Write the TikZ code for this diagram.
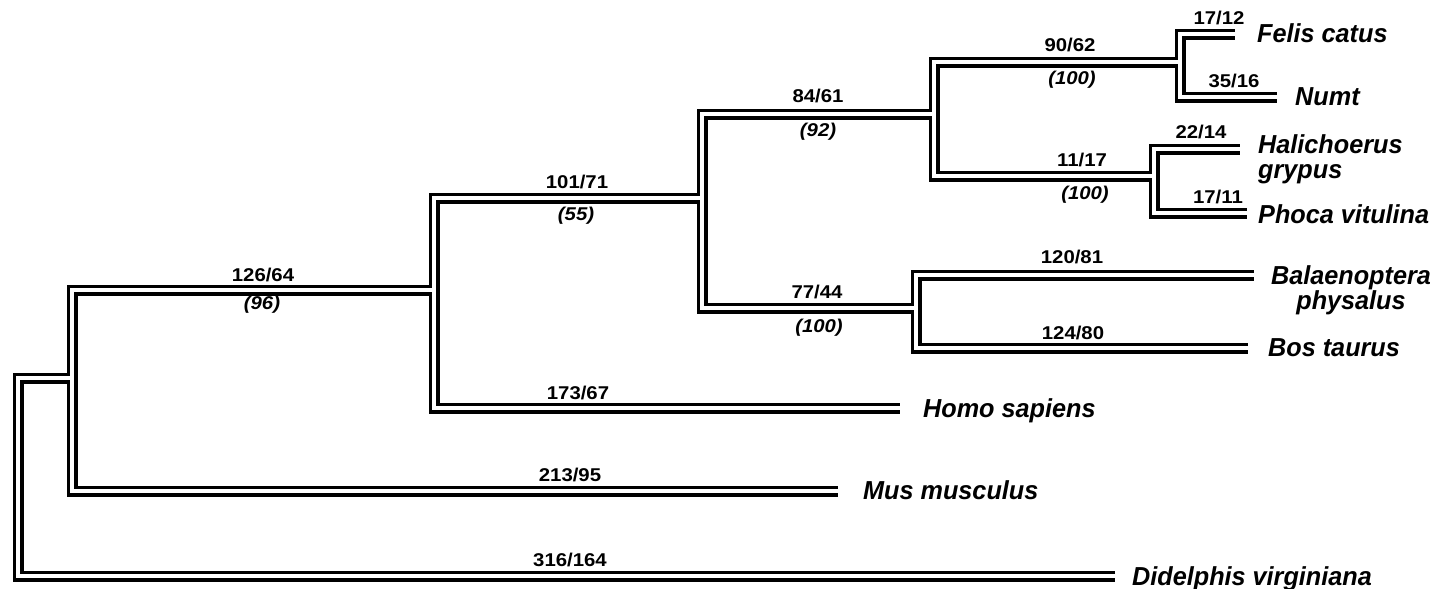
\documentclass[tikz,border=0pt]{standalone}
\usepackage{fontspec}
\newfontfamily\numfont{Liberation Sans}[FakeStretch=1.1]
\newfontfamily\taxfont{Liberation Sans}[FakeStretch=0.97]
\tikzset{
  br/.style={line width=11pt, black, line join=miter, line cap=butt},
  brw/.style={line width=4pt, white, line join=miter, line cap=butt},
  num/.style={font=\numfont\bfseries\fontsize{18.5}{20}\selectfont, inner sep=0pt, anchor=base},
  boot/.style={font=\numfont\bfseries\itshape\fontsize{18.5}{20}\selectfont, inner sep=0pt},
  taxon/.style={font=\taxfont\bfseries\itshape\fontsize{26}{25}\selectfont, inner sep=0pt, anchor=base west, align=left},
}
\begin{document}
\begin{tikzpicture}[x=1pt,y=-1pt]
\useasboundingbox (0,0) rectangle (1441,589);
% internal nodes
\coordinate (R) at (18,378);
\coordinate (A) at (72,378);
\coordinate (B) at (434,290);
\coordinate (C) at (702,198);
\coordinate (D) at (934,114);
\coordinate (E) at (1180,62);
\coordinate (F) at (1154,176);
\coordinate (G) at (916,308);
% leaf ends
\coordinate (felis) at (1235,34);
\coordinate (numt) at (1277,97);
\coordinate (hali) at (1240,149);
\coordinate (phoca) at (1247,213);
\coordinate (bala) at (1254,275);
\coordinate (bos) at (1248,348);
\coordinate (homo) at (900,408);
\coordinate (mus) at (838,491);
\coordinate (did) at (1115,576);
% branches: black pass then white pass
\foreach \s in {br,brw}{
  \draw[\s] (A) -- (R) |- (did);
  \foreach \a/\b in {A/B,A/mus,B/C,B/homo,C/D,C/G,D/E,D/F,E/felis,E/numt,F/hali,F/phoca,G/bala,G/bos}
    \draw[\s] (\a) |- (\b);
}
% taxa
\node[taxon] (tfelis) at (1257,42) {Felis catus};
\node[taxon] (tnumt) at (1295,105) {Numt};
\node[taxon] (thali) at (1258,178) {Halichoerus\\grypus};
\node[taxon] (tphoca) at (1258,223) {Phoca vitulina};
\node[taxon, align=center, anchor=base] (tbala) at (1351,309) {Balaenoptera\\physalus};
\node[taxon] (tbos) at (1268,356) {Bos taurus};
\node[taxon] (thomo) at (923,417) {Homo sapiens};
\node[taxon] (tmus) at (863,499) {Mus musculus};
\node[taxon] (tdid) at (1132,585) {Didelphis virginiana};
% branch lengths
\node[num] (n1) at (1219,24) {17/12};
\node[num] (n2) at (1234,87) {35/16};
\node[num] (n3) at (1201,138) {22/14};
\node[num] (n4) at (1218,203) {17/11};
\node[num] (n5) at (1070,51) {90/62};
\node[num] (n6) at (1082,166) {11/17};
\node[num] (n7) at (818,102) {84/61};
\node[num] (n8) at (577,188) {101/71};
\node[num] (n9) at (263,281) {126/64};
\node[num] (n10) at (817,298) {77/44};
\node[num] (n11) at (1072,263) {120/81};
\node[num] (n12) at (1073,339) {124/80};
\node[num] (n13) at (578,399) {173/67};
\node[num] (n14) at (570,481) {213/95};
\node[num] (n15) at (570,566) {316/164};
% bootstrap values
\node[boot] (b1) at (1072,80) {(100)};
\node[boot] (b2) at (1085,195) {(100)};
\node[boot] (b3) at (818,132) {(92)};
\node[boot] (b4) at (576,216) {(55)};
\node[boot] (b5) at (262,305) {(96)};
\node[boot] (b6) at (819,328) {(100)};
\end{tikzpicture}
\end{document}
